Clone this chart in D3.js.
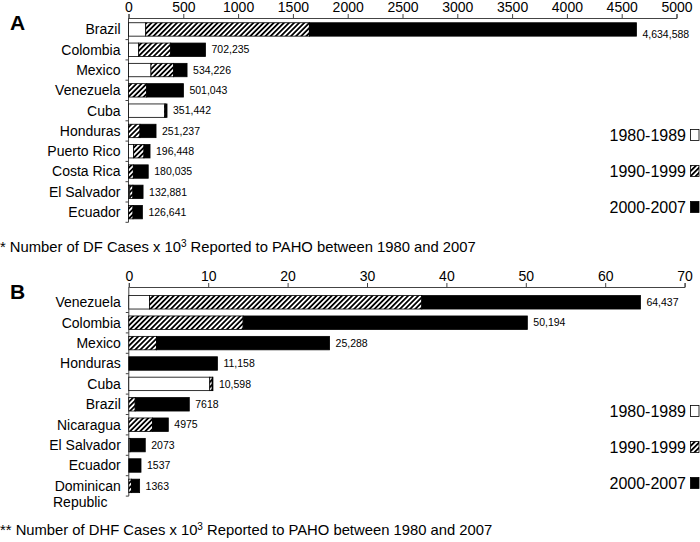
<!DOCTYPE html>
<html><head><meta charset="utf-8">
<script src="https://cdn.jsdelivr.net/npm/d3@7"></script>
<style>
body{margin:0;background:#fff;}
svg{display:block;font-family:"Liberation Sans",Arial,sans-serif;}
</style></head>
<body>
<svg id="c" width="700" height="542"></svg>
<script>
// ---- Data (cases x 10^3) ----
const periods = ["1980-1989","1990-1999","2000-2007"];

const dfCountries = ["Brazil","Colombia","Mexico","Venezuela","Cuba","Honduras","Puerto Rico","Costa Rica","El Salvador","Ecuador"];
const df80 = [157, 93, 205, 0, 330, 0, 47, 0, 12, 0];
const df90 = [1493, 292, 207, 166, 9, 105, 94, 44, 28, 41];
const df00 = [2984.588, 317.235, 122.226, 335.043, 12.442, 146.237, 55.448, 136.035, 92.881, 85.641];
const dfLabels = ["4,634,588","702,235","534,226","501,043","351,442","251,237","196,448","180,035","132,881","126,641"];
const dfTicks = [0,500,1000,1500,2000,2500,3000,3500,4000,4500,5000];

const dhfCountries = ["Venezuela","Colombia","Mexico","Honduras","Cuba","Brazil","Nicaragua","El Salvador","Ecuador","Dominican Republic"];
const dhf80 = [2.6, 0, 0, 0, 10.2, 0, 0, 0.15, 0, 0];
const dhf90 = [34.3, 14.4, 3.5, 0, 0.3, 0.8, 3.0, 0, 0, 0.35];
const dhf00 = [27.537, 35.794, 21.788, 11.158, 0.098, 6.818, 1.975, 1.923, 1.537, 1.013];
const dhfLabels = ["64,437","50,194","25,288","11,158","10,598","7618","4975","2073","1537","1363"];
const dhfTicks = [0,10,20,30,40,50,60,70];

const svg = d3.select("#c");
const defs = svg.append("defs");
const pat = defs.append("pattern").attr("id","hatch").attr("patternUnits","userSpaceOnUse")
  .attr("width",3.6).attr("height",3.6).attr("patternTransform","rotate(45)");
pat.append("rect").attr("width",3.6).attr("height",3.6).attr("fill","#fff");
pat.append("line").attr("x1",0.9).attr("y1",0).attr("x2",0.9).attr("y2",3.6).attr("stroke","#000").attr("stroke-width",1.8);

const fills = ["#fff","url(#hatch)","#000"];

function panel(cfg){
  const x = d3.scaleLinear().domain(cfg.domain).range(cfg.xr);
  const y = d3.scaleBand().domain(cfg.countries).range(cfg.yr).padding(0);
  const g = svg.append("g");
  // top axis
  const ax = g.append("g").attr("transform",`translate(0,${cfg.axisY})`)
    .call(d3.axisTop(x).tickValues(cfg.ticks).tickSize(4).tickPadding(2).tickFormat(d3.format("d")));
  ax.selectAll("path,line").attr("stroke","#444");
  ax.selectAll("text").attr("font-size",14).attr("fill","#000")
    .attr("font-family","'Liberation Sans', Arial, sans-serif");
  // left axis
  g.append("line").attr("x1",x(0)).attr("x2",x(0)).attr("y1",cfg.axisY).attr("y2",cfg.yr[1]).attr("stroke","#444");
  const bounds = cfg.countries.map(c=>y(c)).concat([cfg.yr[1]]).slice(1);
  g.selectAll(".yt").data(bounds).join("line").attr("x1",x(0)-3).attr("x2",x(0))
    .attr("y1",d=>d).attr("y2",d=>d).attr("stroke","#444");
  // bars
  const bh = y.bandwidth()*0.66;
  cfg.countries.forEach((c,i)=>{
    const vals = [cfg.s80[i], cfg.s90[i], cfg.s00[i]];
    let cum = 0;
    const cy = y(c) + y.bandwidth()/2;
    vals.forEach((v,k)=>{
      if(v>0){
        g.append("rect").attr("x",x(cum)).attr("y",cy-bh/2)
          .attr("width",x(cum+v)-x(cum)).attr("height",bh)
          .attr("fill",fills[k]).attr("stroke","#000").attr("stroke-width",0.8);
      }
      cum += v;
    });
    g.append("text").attr("x",x(cum)+6).attr("y",cy+ (i===0 && cfg.firstDy ? cfg.firstDy : 0)).attr("dy","0.35em")
      .attr("font-size",10.5).text(cfg.labels[i]);
    const parts = c==="Dominican Republic" ? ["Dominican","Republic"] : [c];
    parts.forEach((p,j)=>{
      g.append("text").attr("x",x(0)-8).attr("y",cy + j*16).attr("dy","0.35em")
        .attr("text-anchor", j===0 ? "end" : "start")
        .attr("dx", j===0 ? 0 : -(x(0)-8) + 53)
        .attr("font-size",14).text(p);
    });
  });
  // legend
  periods.forEach((p,k)=>{
    const ly = cfg.legY[k];
    g.append("text").attr("x",686).attr("y",ly).attr("dy","0.35em").attr("text-anchor","end")
      .attr("font-size",16).text(p);
    g.append("rect").attr("x",690.5).attr("y",ly-5.5).attr("width",8.5).attr("height",11)
      .attr("fill",fills[k]).attr("stroke","#000").attr("stroke-width",0.8);
  });
  // panel letter
  g.append("text").attr("x",10).attr("y",cfg.letterY).attr("font-size",21).attr("font-weight","bold").text(cfg.letter);
  // footnote
  const fn = g.append("text").attr("x",0).attr("y",cfg.noteY).attr("font-size",14.8);
  fn.append("tspan").text(cfg.notePre);
  fn.append("tspan").attr("font-size",10).attr("dy",-5).text("3");
  fn.append("tspan").attr("dy",5).text(" Reported to PAHO between 1980 and 2007");
}

panel({domain:[0,5000], xr:[128.5,676.5], countries:dfCountries, yr:[19.3,222.3], axisY:18,
  ticks:dfTicks, s80:df80, s90:df90, s00:df00, labels:dfLabels, legY:[135,171,207],
  letter:"A", letterY:30, noteY:252, notePre:"* Number of DF Cases x 10", firstDy:5});

panel({domain:[0,70], xr:[128.8,684.6], countries:dhfCountries, yr:[292.1,496.1], axisY:287,
  ticks:dhfTicks, s80:dhf80, s90:dhf90, s00:dhf00, labels:dhfLabels, legY:[411,447,483],
  letter:"B", letterY:299, noteY:535, notePre:"** Number of DHF Cases x 10", firstDy:0});
</script>
</body></html>
